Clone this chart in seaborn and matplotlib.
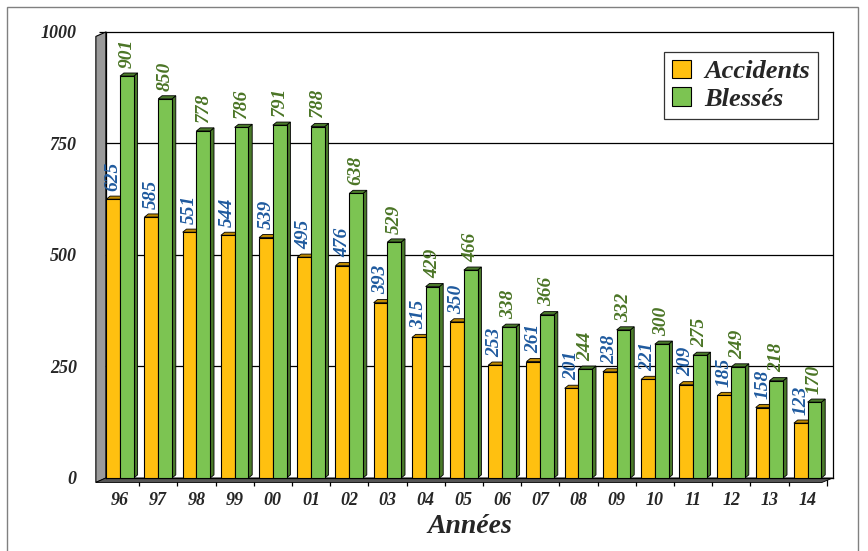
import numpy as np
import pandas as pd
import matplotlib
matplotlib.use("Agg")
import matplotlib.pyplot as plt
from matplotlib.patches import Polygon, Patch, Rectangle
import seaborn as sns

years = ["96", "97", "98", "99", "00", "01", "02", "03", "04", "05",
         "06", "07", "08", "09", "10", "11", "12", "13", "14"]
accidents = [625, 585, 551, 544, 539, 495, 476, 393, 315, 350,
             253, 261, 201, 238, 221, 209, 185, 158, 123]
blesses = [901, 850, 778, 786, 791, 788, 638, 529, 429, 466,
           338, 366, 244, 332, 300, 275, 249, 218, 170]
series = ["Accidents", "Blessés"]

face = {"Accidents": "#FFC010", "Blessés": "#7CC452"}
side = {"Accidents": "#C08A00", "Blessés": "#4A7A2A"}
label_col = {"Accidents": "#1F5A9E", "Blessés": "#4B7526"}

df = pd.DataFrame({
    "annee": years * 2,
    "serie": [series[0]] * len(years) + [series[1]] * len(years),
    "valeur": accidents + blesses,
})

sns.set_style("white")
plt.rcParams["font.family"] = ["Liberation Serif", "DejaVu Serif"]

fig = plt.figure(figsize=(8.68, 5.51), dpi=100)
ax = fig.add_axes([0.122, 0.1325, 0.8375, 0.8095])

sns.barplot(data=df, x="annee", y="valeur", hue="serie", hue_order=series,
            palette=face, saturation=1, width=0.72, edgecolor="black", linewidth=0.8,
            legend=False, ax=ax, zorder=3)

ax.set_xlim(-0.37, 18.66)
ax.set_ylim(0, 1000)

# fake 3d: side and top faces from the drawn bars
dx, dy = 0.1, 7
for cont, name in zip(ax.containers, series):
    for p in cont.patches:
        x0, w, h = p.get_x(), p.get_width(), p.get_height()
        ax.add_patch(Polygon([(x0 + w, 0), (x0 + w + dx, dy), (x0 + w + dx, h + dy), (x0 + w, h)],
                             closed=True, fc=side[name], ec="black", lw=0.6, zorder=2.9))
        ax.add_patch(Polygon([(x0, h), (x0 + dx, h + dy), (x0 + w + dx, h + dy), (x0 + w, h)],
                             closed=True, fc=side[name], ec="black", lw=0.6, zorder=2.9))
    ax.bar_label(cont, labels=[str(int(v)) for v in cont.datavalues], rotation=90,
                 padding=6, color=label_col[name], fontsize=14, fontweight="bold",
                 fontstyle="italic", zorder=4)

# grid lines on back wall
for v in [250, 500, 750]:
    ax.axhline(v, color="black", lw=0.9, zorder=1)

# left wall and floor
ax.add_patch(Polygon([(-0.0138, -0.01), (0, 0), (0, 1), (-0.0138, 0.99)], closed=True,
                     transform=ax.transAxes, fc="#9A9A9A", ec="black", lw=0.8, clip_on=False))
ax.add_patch(Polygon([(-0.0138, -0.01), (0.985, -0.01), (1, 0), (0, 0)], closed=True,
                     transform=ax.transAxes, fc="#555555", ec="black", lw=0.6, clip_on=False))

for s in ax.spines.values():
    s.set_color("black")
    s.set_linewidth(0.9)

ax.set_yticks([0, 250, 500, 750, 1000])
ax.set_yticklabels(["0", "250", "500", "750", "1000"], fontsize=13,
                   fontweight="bold", fontstyle="italic")
ax.tick_params(axis="y", left=True, length=5, width=0.9, pad=16, color="black")
ax.set_xticks(range(len(years)))
ax.set_xticklabels(years, fontsize=13, fontweight="bold", fontstyle="italic")
ax.set_xticks(np.arange(len(years)) + 0.5, minor=True)
ax.tick_params(axis="x", which="major", length=0, pad=10)
ax.tick_params(axis="x", which="minor", bottom=True, length=6, width=0.9, color="black")

ax.set_ylabel("")
ax.set_xlabel("Années", fontsize=20, fontweight="bold", fontstyle="italic", labelpad=4)

handles = [Patch(fc=face[s], ec="black", lw=0.8) for s in series]
leg = ax.legend(handles, series, loc="upper right", bbox_to_anchor=(0.979, 0.955),
                borderaxespad=0,
                prop={"size": 19, "weight": "bold", "style": "italic"},
                frameon=True, fancybox=False, edgecolor="black",
                handlelength=0.7, handleheight=0.7, handletextpad=0.5,
                borderpad=0.3, labelspacing=0.15)
leg.get_frame().set_linewidth(0.9)
leg.set_zorder(5)

fig.patches.append(Rectangle((7 / 868, -0.01), 851 / 868, 1 - 7 / 551 + 0.01,
                             transform=fig.transFigure, fill=False, ec="#808080", lw=1.0))

fig.savefig("out.png", dpi=100)
